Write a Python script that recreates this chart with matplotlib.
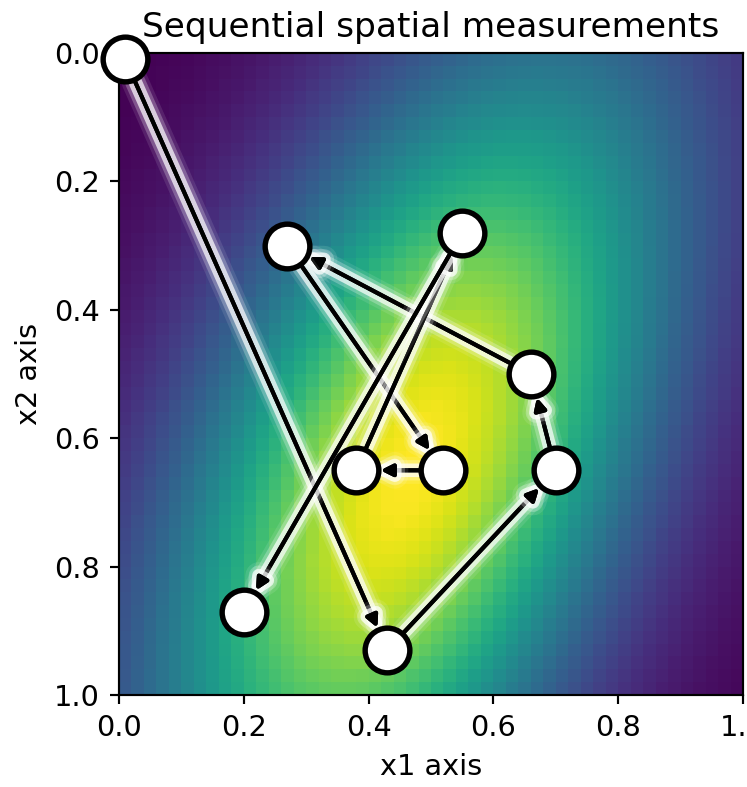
import numpy as np
import matplotlib
matplotlib.use('Agg')
import matplotlib.pyplot as plt
import matplotlib.patheffects as pe

# measurement locations, in visiting order
x1 = [0.01, 0.43, 0.70, 0.66, 0.27, 0.52, 0.38, 0.55, 0.20]
x2 = [0.01, 0.93, 0.65, 0.50, 0.30, 0.65, 0.65, 0.28, 0.87]

# background field: tilted bump
peak_x1, peak_x2 = 0.47, 0.65
axis_dir = (0.40, -0.92)
spread_long, spread_short = 0.50, 0.235
n_cells = 50

g = (np.arange(n_cells) + 0.5) / n_cells
gx, gy = np.meshgrid(g, g)
dx = gx - peak_x1
dy = gy - peak_x2
u = axis_dir[0] * dx + axis_dir[1] * dy
v = -axis_dir[1] * dx + axis_dir[0] * dy
field = np.exp(-u**2 / (2 * spread_long**2) - v**2 / (2 * spread_short**2))

dpi = 195
fig = plt.figure(figsize=(747 / dpi, 787 / dpi), dpi=dpi)
ax = fig.add_axes([119 / 747, 92 / 787, 624 / 747, 642 / 787])

ax.imshow(field, cmap='viridis', extent=(0, 1, 1, 0), aspect='auto',
          interpolation='nearest', vmin=field.min(), vmax=field.max())

glow = [pe.withStroke(linewidth=10, foreground='white', alpha=0.1),
        pe.withStroke(linewidth=7.5, foreground='white', alpha=0.25),
        pe.withStroke(linewidth=5, foreground='white', alpha=0.7),
        pe.Normal()]

for i in range(len(x1) - 1):
    ann = ax.annotate('', xy=(x1[i + 1], x2[i + 1]), xytext=(x1[i], x2[i]),
                      arrowprops=dict(arrowstyle='-|>', color='black', lw=1.5,
                                      shrinkA=9, shrinkB=9, mutation_scale=9))
    ann.arrow_patch.set_path_effects(glow)

ax.plot(x1, x2, linestyle='none', marker='o', markersize=16.5,
        markerfacecolor='white', markeredgecolor='black', markeredgewidth=2.0,
        clip_on=False, zorder=5)

ax.set_xlim(0, 1)
ax.set_ylim(1, 0)
ax.set_xticks([0.0, 0.2, 0.4, 0.6, 0.8, 1.0])
ax.set_yticks([0.0, 0.2, 0.4, 0.6, 0.8, 1.0])
ax.tick_params(labelsize=10.6)
ax.set_xlabel('x1 axis', fontsize=10.6)
ax.set_ylabel('x2 axis', fontsize=10.6)
ax.set_title('Sequential spatial measurements', fontsize=12.7)

fig.savefig('out.png', dpi=dpi)
